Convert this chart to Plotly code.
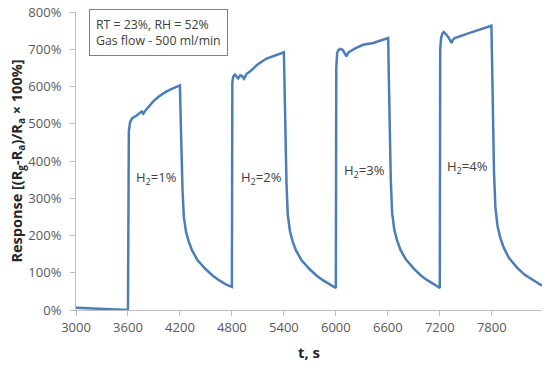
import plotly.graph_objects as go

# time, s
t = [3000, 3300, 3600,
     3600, 3610, 3625, 3650, 3700, 3758, 3777, 3800, 3892, 3960, 4046, 4120, 4200,
     4208, 4218, 4230, 4245, 4270, 4300, 4340, 4400, 4495, 4580, 4650, 4730, 4797,
     4800, 4805, 4815, 4835, 4855, 4873, 4895, 4912, 4940, 4970, 5008, 5100, 5200, 5300, 5400,
     5408, 5418, 5430, 5445, 5470, 5500, 5540, 5600, 5695, 5780, 5850, 5930, 5997,
     6000, 6005, 6015, 6030, 6054, 6080, 6105, 6123, 6140, 6162, 6230, 6315, 6431, 6500, 6604,
     6612, 6622, 6634, 6650, 6675, 6705, 6745, 6805, 6900, 6985, 7055, 7135, 7197,
     7200, 7205, 7215, 7230, 7246, 7277, 7300, 7335, 7350, 7373, 7450, 7546, 7650, 7796,
     7804, 7814, 7826, 7842, 7867, 7897, 7937, 7997, 8092, 8177, 8247, 8320, 8380]

# response, %
response = [6, 3, 0,
            0, 480, 505, 515, 522, 533, 527, 535, 560, 574, 587, 595, 603,
            520, 420, 320, 250, 210, 185, 160, 135, 110, 92, 80, 69, 62,
            62, 610, 627, 632, 626, 622, 630, 629, 621, 634, 640, 660, 675, 684, 692,
            600, 470, 340, 255, 212, 185, 160, 135, 110, 92, 80, 69, 59,
            59, 650, 690, 698, 701, 698, 690, 681, 690, 694, 703, 712, 717, 722, 730,
            620, 480, 350, 260, 215, 188, 162, 137, 111, 92, 80, 69, 59,
            59, 700, 730, 742, 746, 739, 732, 717, 725, 730, 737, 744, 752, 763,
            660, 520, 370, 275, 225, 195, 168, 140, 114, 95, 84, 73, 65]

x_ticks = [3000, 3600, 4200, 4800, 5400, 6000, 6600, 7200, 7800]
y_ticks = [0, 100, 200, 300, 400, 500, 600, 700, 800]

label_text = ["H<sub>2</sub>=1%", "H<sub>2</sub>=2%", "H<sub>2</sub>=3%", "H<sub>2</sub>=4%"]
label_x = [3935, 5146, 6335, 7523]
label_y = [355, 355, 372, 384]

FONT = "Open Sans"
GRAY = "#595959"
AXIS = "#bfbfbf"

fig = go.Figure()
fig.add_trace(go.Scatter(x=t, y=response, mode="lines",
                         line=dict(color="#4a7ebb", width=2.5),
                         showlegend=False, hoverinfo="skip"))

for txt, lx, ly in zip(label_text, label_x, label_y):
    fig.add_annotation(x=lx, y=ly, xref="x", yref="y", text=txt, showarrow=False,
                       font=dict(family=FONT, size=13, color="#404040"))

fig.add_annotation(x=0.028, y=1.01, xref="paper", yref="paper",
                   xanchor="left", yanchor="top", align="left",
                   text="RT = 23%, RH = 52%<br>Gas flow - 500 ml/min",
                   showarrow=False, bordercolor="#808080", borderwidth=1,
                   borderpad=6, bgcolor="white",
                   font=dict(family=FONT, size=12.3, color="#404040"))

fig.update_layout(
    width=550, height=367,
    margin=dict(l=76, r=8, t=12, b=57),
    paper_bgcolor="white", plot_bgcolor="white",
    font=dict(family=FONT, size=13, color=GRAY),
    xaxis=dict(range=[3000, 8380], tickvals=x_ticks, ticktext=[str(v) for v in x_ticks],
               showgrid=False, zeroline=False, showline=True, linecolor=AXIS, linewidth=1,
               ticks="outside", ticklen=5, tickcolor=AXIS, automargin=False,
               tickfont=dict(family=FONT, size=13, color=GRAY),
               title=dict(text="<b>t, s</b>", font=dict(family=FONT, size=15, color="#262626"),
                          standoff=12)),
    yaxis=dict(range=[0, 800], tickvals=y_ticks, ticktext=[f"{v}%" for v in y_ticks],
               showgrid=False, zeroline=False, showline=True, linecolor=AXIS, linewidth=1,
               ticks="outside", ticklen=5, tickcolor=AXIS, automargin=False,
               ticklabelstandoff=6, ticklabeloverflow="allow",
               tickfont=dict(family=FONT, size=13, color=GRAY),
               title=dict(text="<b>Response [(R<sub>g</sub>-R<sub>a</sub>)/R<sub>a</sub> × 100%]</b>",
                          font=dict(family=FONT, size=14.5, color="#262626"), standoff=1)),
)

# remove the browser's default 8px page margin so the figure fills the window
fig.write_html("out.html", config={"displayModeBar": False},
               post_script="document.body.style.margin='0';")
